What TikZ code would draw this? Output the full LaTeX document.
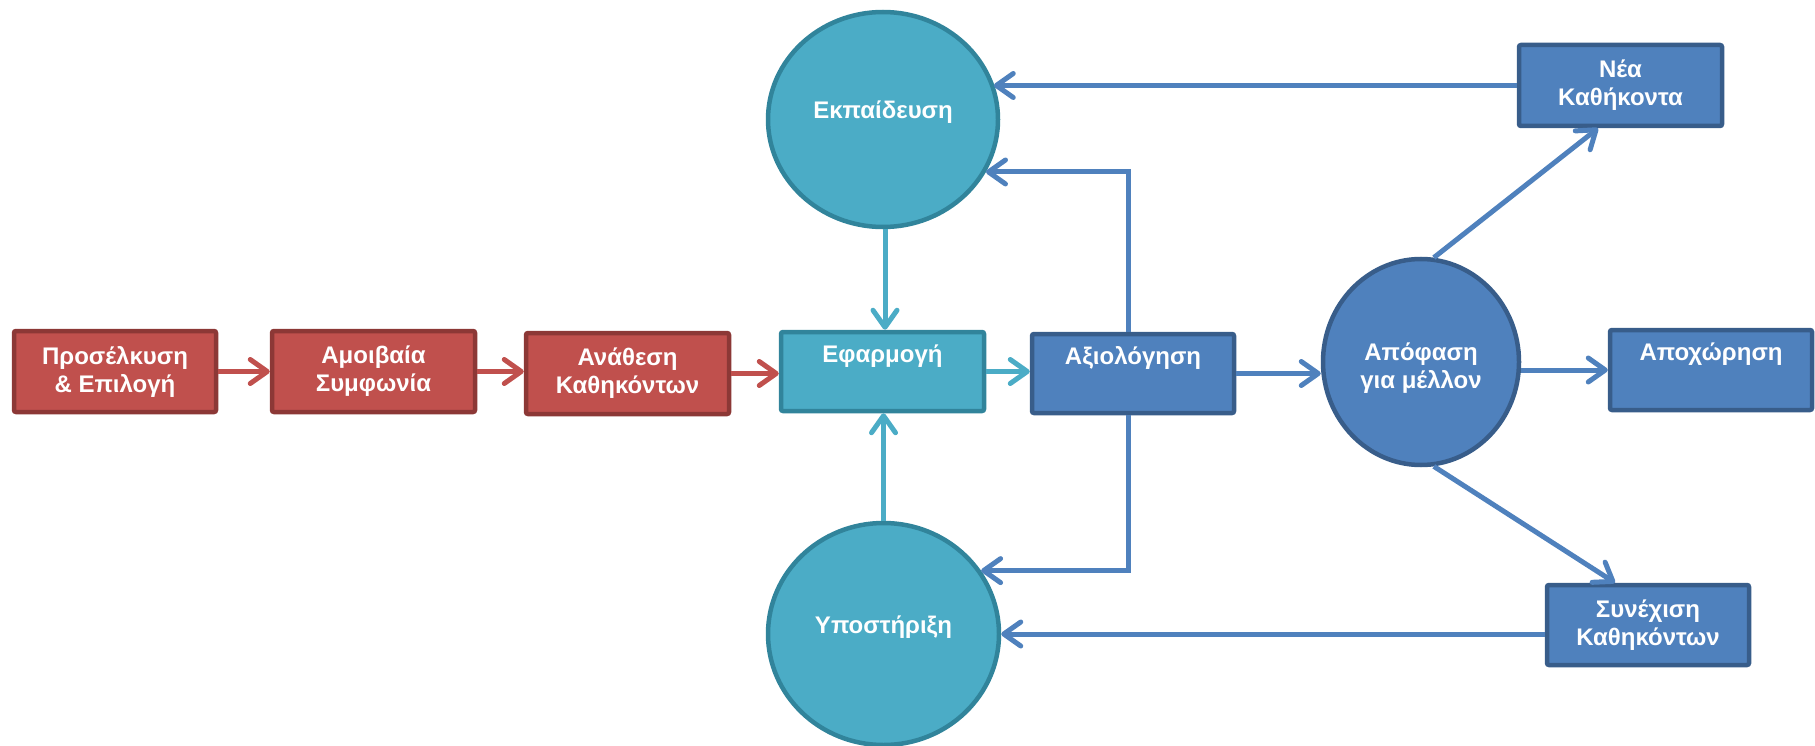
\documentclass[tikz,border=0pt]{standalone}
\usepackage{fontspec}
\setmainfont{Liberation Sans}
\usetikzlibrary{arrows.meta,shapes.geometric}

\definecolor{redfill}{HTML}{C0504D}
\definecolor{redline}{HTML}{8C3836}
\definecolor{tealfill}{HTML}{4BACC6}
\definecolor{tealline}{HTML}{31849B}
\definecolor{bluefill}{HTML}{4F81BD}
\definecolor{blueline}{HTML}{385D8A}

\tikzset{
  lbltext/.style={text=white, align=center, font=\bfseries\fontsize{24}{28}\selectfont},
  boxnode/.style={rectangle, rounded corners=2pt, line width=4.5pt, inner sep=0pt, lbltext},
  redbox/.style={boxnode, fill=redfill, draw=redline},
  tealbox/.style={boxnode, fill=tealfill, draw=tealline},
  bluebox/.style={boxnode, fill=bluefill, draw=blueline},
  roundnode/.style={ellipse, line width=4.5pt, inner sep=0pt},
  tealround/.style={roundnode, fill=tealfill, draw=tealline},
  blueround/.style={roundnode, fill=bluefill, draw=blueline},
  link/.style={line width=5pt, -{Straight Barb[length=17pt,width=24pt,round]}},
  redlink/.style={link, draw=redfill},
  teallink/.style={link, draw=tealfill},
  bluelink/.style={link, draw=bluefill},
}

\begin{document}
\begin{tikzpicture}[x=1pt, y=-1pt]
\useasboundingbox (0,0) rectangle (1815,746);

% recruitment chain
\node[redbox, minimum width=202pt, minimum height=81pt] (attract) at (115,371.5) {Προσέλκυση\\\& Επιλογή};
\node[redbox, minimum width=203pt, minimum height=81pt] (agree) at (373.5,371.5) {Αμοιβαία\\Συμφωνία};
\node[redbox, minimum width=203pt, minimum height=81pt] (assign) at (627.5,373.5) {Ανάθεση\\Καθηκόντων};

% core of the cycle
\node[tealbox, minimum width=203pt, minimum height=79pt] (apply) at (882.5,371.5) {Εφαρμογή\\\strut};
\node[bluebox, minimum width=202pt, minimum height=79pt] (eval) at (1133,373.5) {Αξιολόγηση\\\strut};

\node[tealround, minimum width=230pt, minimum height=215pt,
      label={[lbltext, yshift=7.5pt]center:Εκπαίδευση}] (train) at (883,119.5) {};
\node[tealround, minimum width=231pt, minimum height=222pt,
      label={[lbltext, yshift=7pt]center:Υποστήριξη}] (support) at (883.5,634) {};
\node[blueround, minimum width=196pt, minimum height=206pt,
      label={[lbltext, yshift=-6pt]center:Απόφαση\\για μέλλον}] (decide) at (1421,362) {};

% outcomes
\node[bluebox, minimum width=203pt, minimum height=81pt] (newtasks) at (1620.5,85.5) {Νέα\\Καθήκοντα};
\node[bluebox, minimum width=202pt, minimum height=80pt] (retire) at (1711,370) {Αποχώρηση\\\strut};
\node[bluebox, minimum width=202pt, minimum height=80pt] (cont) at (1648,625) {Συνέχιση\\Καθηκόντων};

% connectors
\draw[redlink] (attract.east) -- (attract.east -| agree.west);
\draw[redlink] (agree.east) -- (agree.east -| assign.west);
\draw[redlink] (assign.east) -- (assign.east -| apply.west);

\draw[teallink] (apply.east) -- (apply.east -| eval.west);
\draw[teallink] ([xshift=2pt]train.south) -- ([xshift=2pt]train.south |- apply.north);
\draw[teallink] (support.north) -- (support.north |- apply.south);

\draw[bluelink] (eval.east) -- (eval.east -| decide.west);
\draw[bluelink] (retire.west -| decide.east) -- (retire.west);
\draw[bluelink] (decide.83) -- ([xshift=-22.5pt]newtasks.south);
\draw[bluelink] (decide.-83) -- ([xshift=-33pt]cont.north);

\draw[bluelink] ([xshift=-5pt]eval.north) |- (train.-27.6);
\draw[bluelink] ([xshift=-5pt]eval.south) |- (support.33);
\draw[bluelink] (newtasks.west) -- (newtasks.west -| train.18);
\draw[bluelink] (support.east -| cont.west) -- (support.east);
\end{tikzpicture}
\end{document}
